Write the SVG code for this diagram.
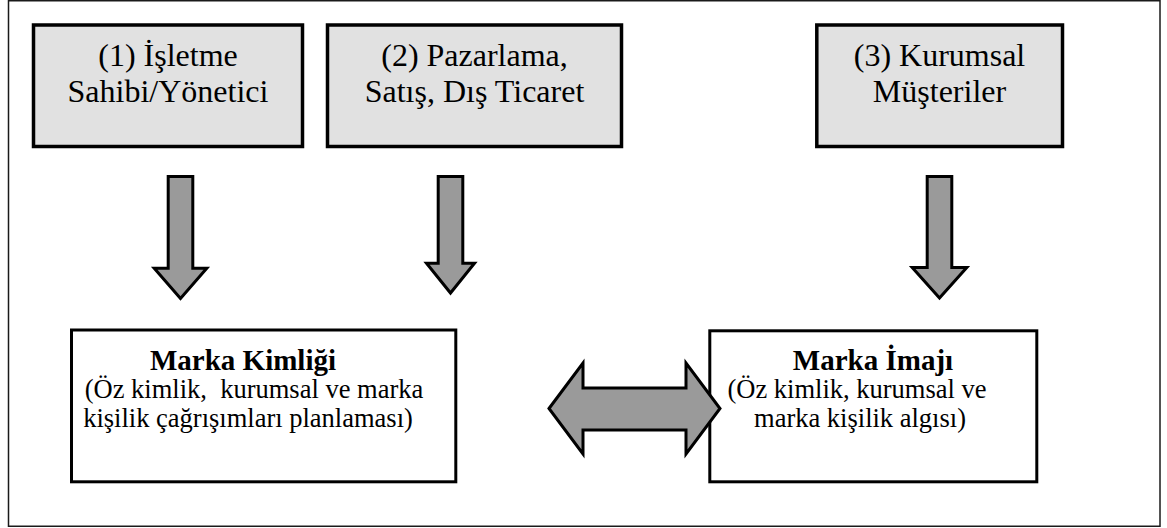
<svg xmlns="http://www.w3.org/2000/svg" width="1167" height="528" viewBox="0 0 1167 528">
  <style>
    .frame { fill: #ffffff; stroke: #1a1a1a; stroke-width: 1.5; }
    .src { fill: #e1e1e1; stroke: #000; stroke-width: 3.5; }
    .res { fill: #ffffff; stroke: #000; stroke-width: 3; }
    .arrow { fill: #9a9a9a; stroke: #000; stroke-width: 3; stroke-linejoin: miter; }
    .lbl { fill: #000; text-anchor: middle; }
    .t1 { font-size: 32px; }
    .t2 { font-size: 26.5px; }
    .b { font-size: 29px; font-weight: bold; }
  </style>

  <!-- outer frame -->
  <rect class="frame" x="8.5" y="0.75" width="1151.5" height="525.5"/>

  <g font-family="Liberation Serif, Tinos, Times New Roman, DejaVu Serif, serif">
    <!-- source boxes -->
    <g id="owner">
      <rect class="src" x="33.5" y="25" width="269" height="121.5"/>
      <text class="lbl t1" x="168" y="66">(1) İşletme</text>
      <text class="lbl t1" x="168" y="102">Sahibi/Yönetici</text>
    </g>
    <g id="marketing">
      <rect class="src" x="327.5" y="25" width="294" height="121.5"/>
      <text class="lbl t1" x="474.5" y="66">(2) Pazarlama,</text>
      <text class="lbl t1" x="474.5" y="102">Satış, Dış Ticaret</text>
    </g>
    <g id="customers">
      <rect class="src" x="816.8" y="25" width="245.7" height="121.5"/>
      <text class="lbl t1" x="939.5" y="66">(3) Kurumsal</text>
      <text class="lbl t1" x="939.5" y="102">Müşteriler</text>
    </g>

    <!-- result boxes -->
    <g id="identity">
      <rect class="res" x="71.5" y="330" width="384.3" height="151.8"/>
      <text class="lbl b" x="243" y="370">Marka Kimliği</text>
      <text class="lbl t2" x="254" y="398" xml:space="preserve">(Öz kimlik,  kurumsal ve marka</text>
      <text class="lbl t2" x="248" y="427">kişilik çağrışımları planlaması)</text>
    </g>
    <g id="image">
      <rect class="res" x="709.8" y="330.8" width="327" height="151"/>
      <text class="lbl b" x="873" y="370">Marka İmajı</text>
      <text class="lbl t2" x="857" y="398">(Öz kimlik, kurumsal ve</text>
      <text class="lbl t2" x="860" y="427">marka kişilik algısı)</text>
    </g>
  </g>

  <!-- connectors -->
  <g id="connectors">
    <path class="arrow" d="M168.2,176.5 H192.8 V268.2 H206.8 L180.5,298.5 L154.2,268.2 H168.2 Z"/>
    <path class="arrow" d="M438.2,176.5 H462.8 V263.2 H474.5 L450.5,293 L426.5,263.2 H438.2 Z"/>
    <path class="arrow" d="M927.2,176.5 H951.8 V267.5 H966.8 L939.5,298 L912.2,267.5 H927.2 Z"/>
    <path class="arrow" d="M549,408.5 L583,363 V388 H686 V363 L720,408.5 L686,454 V430 H583 V454 Z"/>
  </g>
</svg>
